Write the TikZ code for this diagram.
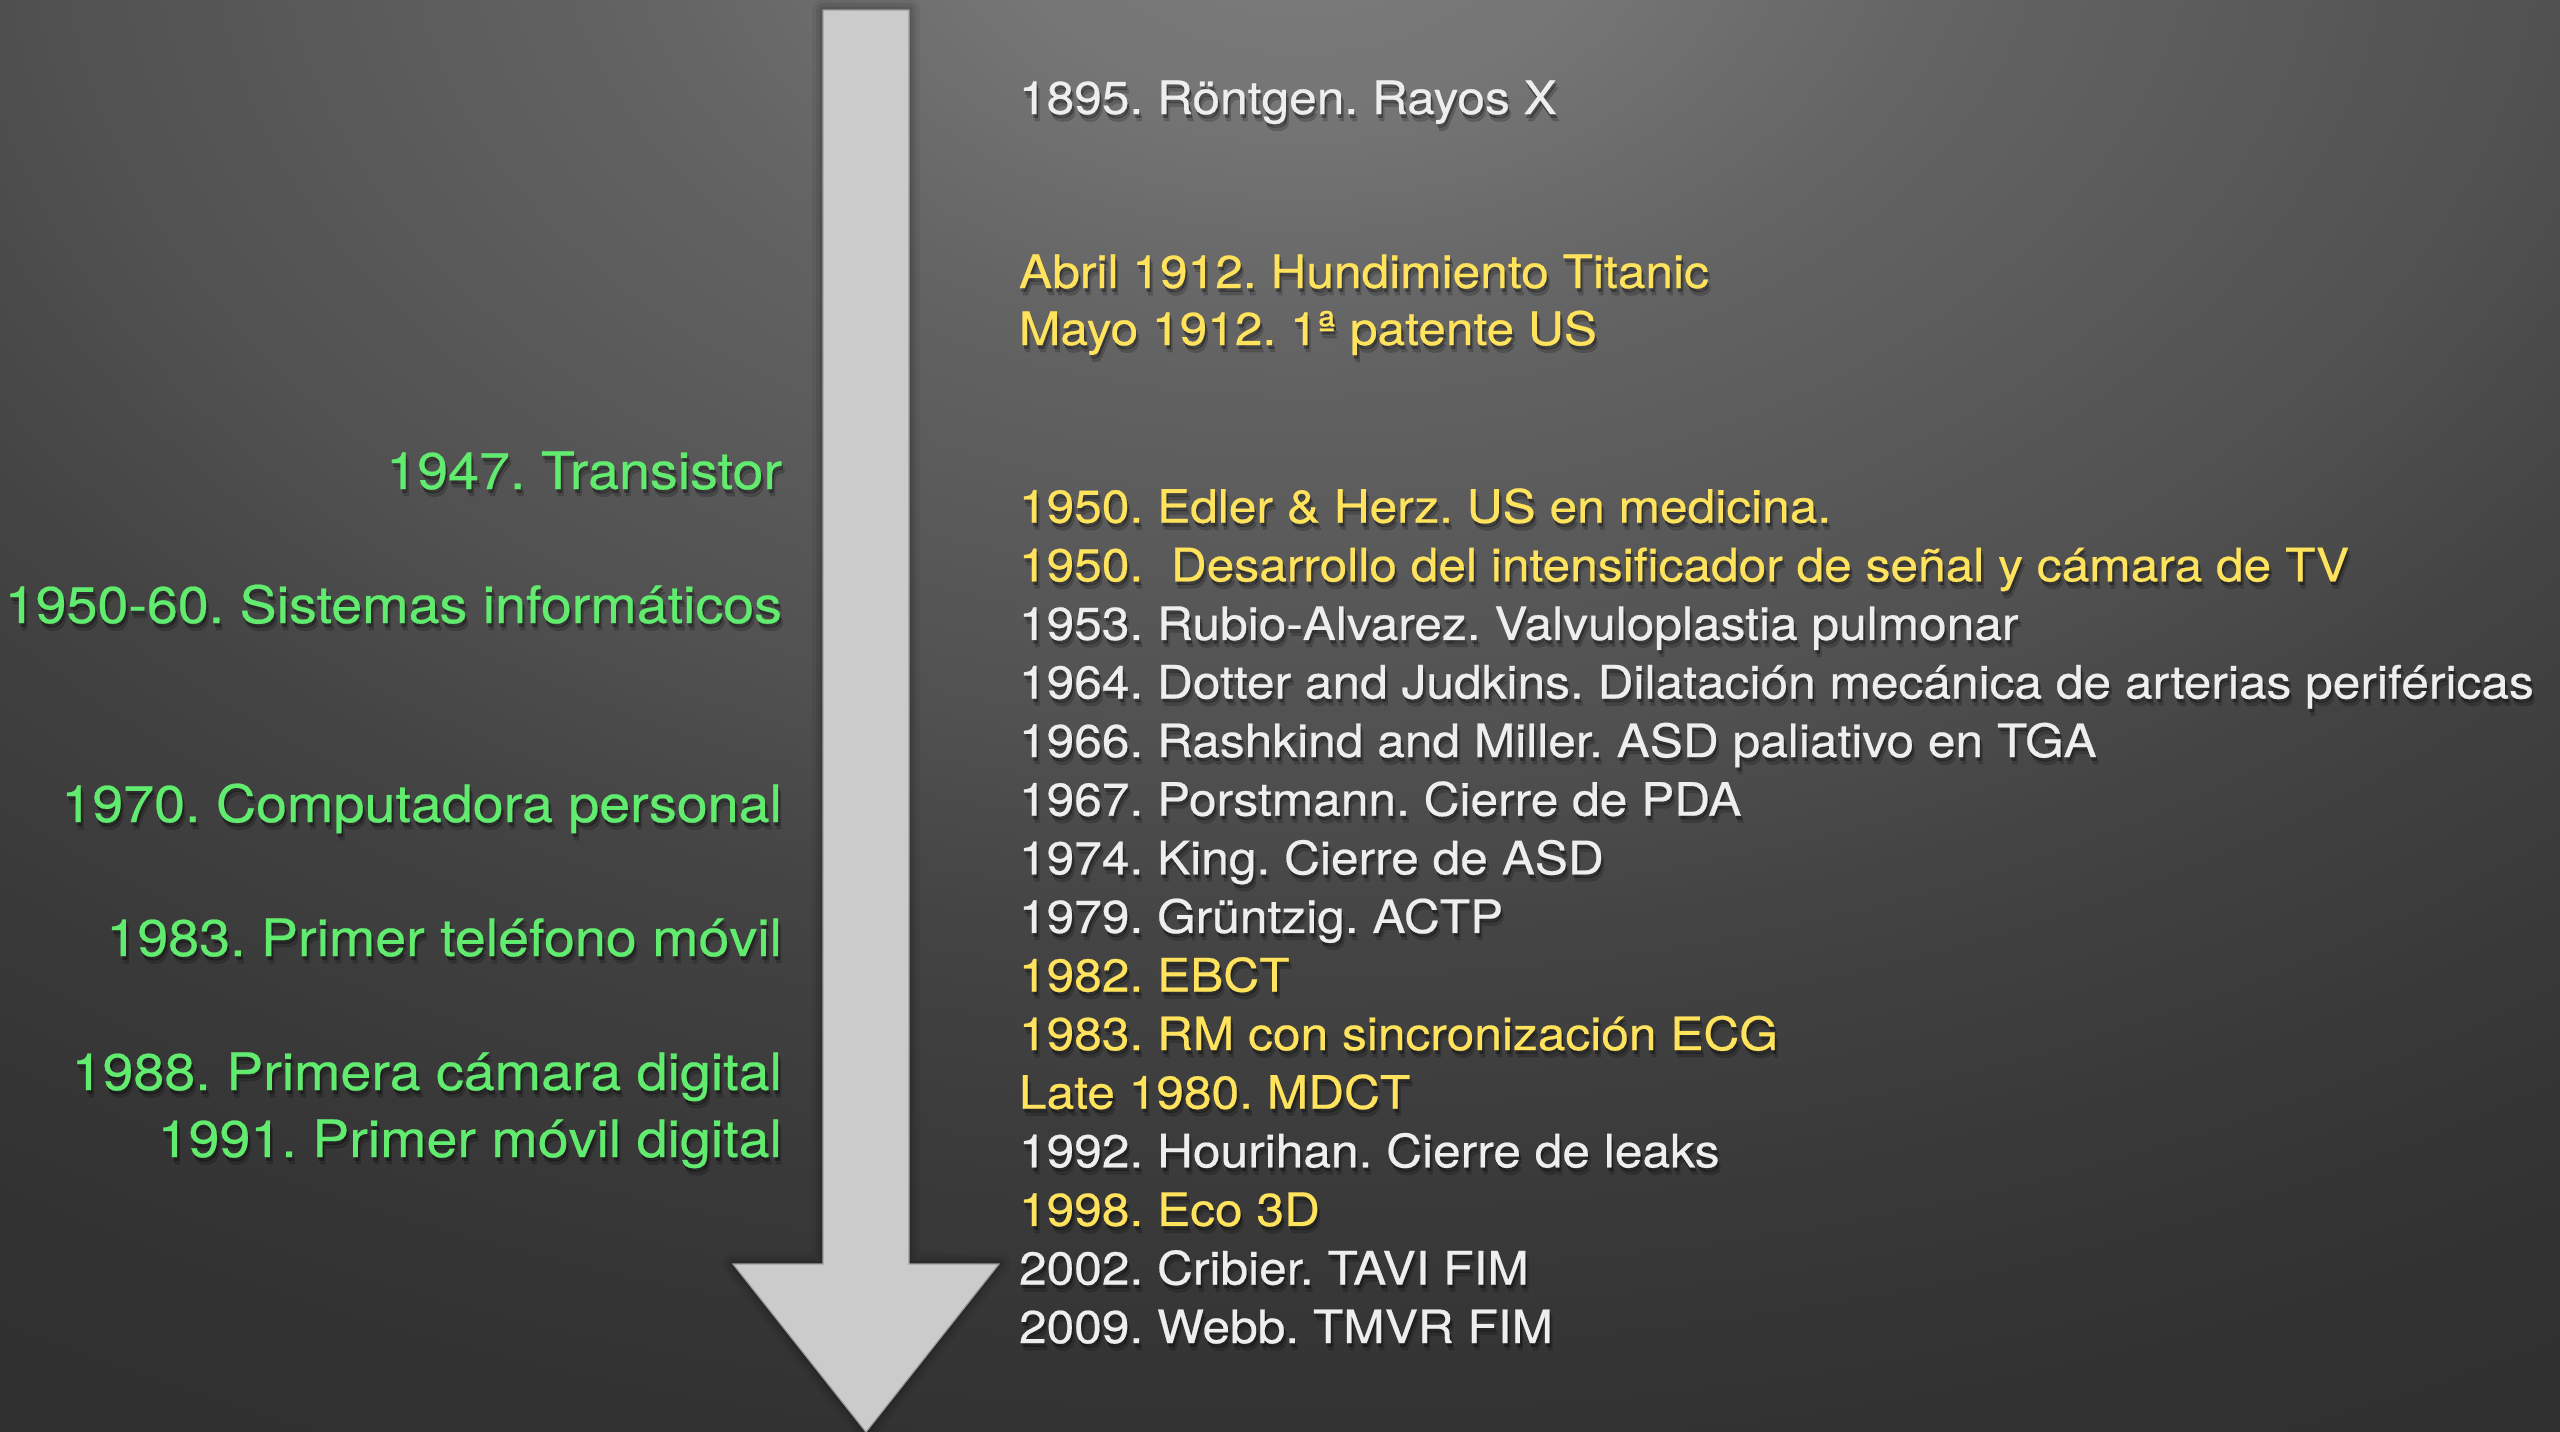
\documentclass[tikz,border=0pt]{standalone}
\usepackage{fontspec}
\setmainfont[FakeStretch=1.08,FakeBold=0.5]{TeX Gyre Heros}
\definecolor{bgA}{HTML}{7C7C7C}
\definecolor{bgB}{HTML}{767676}
\definecolor{bgC}{HTML}{646464}
\definecolor{bgD}{HTML}{515151}
\definecolor{bgE}{HTML}{444444}
\definecolor{bgF}{HTML}{393939}
\definecolor{bgG}{HTML}{313131}
\definecolor{bgH}{HTML}{2E2E2E}
\definecolor{arrowgray}{HTML}{CBCBCB}
\definecolor{arrowedge}{HTML}{9C9C9C}
\definecolor{wcol}{HTML}{EEEEEE}
\definecolor{ycol}{HTML}{FFE35C}
\definecolor{gcol}{HTML}{62EC6F}
% the path's bounding box maps to 0..25bp
\pgfdeclareradialshading{bgshade}{\pgfpoint{0bp}{0bp}}{color(0bp)=(bgA); color(2.5bp)=(bgB); color(5.5bp)=(bgC); color(10.5bp)=(bgD); color(13bp)=(bgE); color(16.5bp)=(bgF); color(20bp)=(bgG); color(25bp)=(bgH); color(50bp)=(bgH)}
\newcommand\rfont{\fontsize{46}{50}\selectfont}
\newcommand\lfont{\fontsize{51.5}{56}\selectfont}
\tikzset{
  lbl/.style={inner sep=0pt, outer sep=0pt},
  shd/.style={lbl, text=black},
  rlbl/.style={font=\rfont},
  llbl/.style={font=\lfont},
}
% #1 name, #2 style+anchor, #3 position, #4 colour, #5 text
\newcommand\evt[5]{%
  \node[shd, #2, text opacity=0.18, xshift=3pt, yshift=-7pt] (#1-s2) at (#3) {#5};
  \node[shd, #2, text opacity=0.30, xshift=1.5pt, yshift=-3.5pt] (#1-s1) at (#3) {#5};
  \node[lbl, #2, text=#4] (#1) at (#3) {#5};}
\begin{document}
\frenchspacing
\begin{tikzpicture}[x=1pt,y=-1pt]
\useasboundingbox (0,0) rectangle (2560,1432);
% background
\begin{scope}
  \clip (0,0) rectangle (2560,1432);
  \fill[bgH] (0,0) rectangle (2560,1432);
  \shade[shading=bgshade] (1300,-100) ellipse [x radius=3000pt, y radius=2000pt];
\end{scope}
% arrow shadow
\foreach \w/\o in {22/0.05,14/0.07,7/0.09}{
  \draw[black, opacity=\o, line width=\w pt, line join=round]
    (823,10) -- (909,10) -- (909,1264) -- (999,1264) -- (866,1432) -- (733,1264) -- (823,1264) -- cycle;
}
% arrow
\fill[arrowgray, draw=arrowedge, line width=1.2pt]
  (823,10) -- (909,10) -- (909,1264) -- (999,1264) -- (866,1432) -- (733,1264) -- (823,1264) -- cycle;
% top right items
\evt{r1895}{rlbl,anchor=base west}{1019,114}{wcol}{1895. Röntgen. Rayos X}
\evt{rabril}{rlbl,anchor=base west}{1019,288}{ycol}{Abril 1912. Hundimiento Titanic}
\evt{rmayo}{rlbl,anchor=base west}{1019,345}{ycol}{Mayo 1912. 1ª patente US}
% list
\foreach \i/\c/\t in {
  0/ycol/{1950. Edler \& Herz. US en medicina.},
  1/ycol/{1950.\ \ Desarrollo del intensificador de señal y cámara de TV},
  2/wcol/{1953. Rubio-Alvarez. Valvuloplastia pulmonar},
  3/wcol/{1964. Dotter and Judkins. Dilatación mecánica de arterias periféricas},
  4/wcol/{1966. Rashkind and Miller. ASD paliativo en TGA},
  5/wcol/{1967. Porstmann. Cierre de PDA},
  6/wcol/{1974. King. Cierre de ASD},
  7/wcol/{1979. Grüntzig. ACTP},
  8/ycol/{1982. EBCT},
  9/ycol/{1983. RM con sincronización ECG},
  10/ycol/{Late 1980. MDCT},
  11/wcol/{1992. Hourihan. Cierre de leaks},
  12/ycol/{1998. Eco 3D},
  13/wcol/{2002. Cribier. TAVI FIM},
  14/wcol/{2009. Webb. TMVR FIM}}{
  \pgfmathsetmacro\yy{522.7+58.6*\i}
  \evt{item\i}{rlbl,anchor=base west}{1019,\yy}{\c}{\t}
}
% left column
\evt{l1947}{llbl,anchor=base east}{782,489}{gcol}{1947. Transistor}
\evt{l1950}{llbl,anchor=base east}{782,623}{gcol}{1950-60. Sistemas informáticos}
\evt{l1970}{llbl,anchor=base east}{782,822}{gcol}{1970. Computadora personal}
\evt{l1983}{llbl,anchor=base east}{782,956}{gcol}{1983. Primer teléfono móvil}
\evt{l1988}{llbl,anchor=base east}{782,1090}{gcol}{1988. Primera cámara digital}
\evt{l1991}{llbl,anchor=base east}{782,1157}{gcol}{1991. Primer móvil digital}
\end{tikzpicture}
\end{document}
